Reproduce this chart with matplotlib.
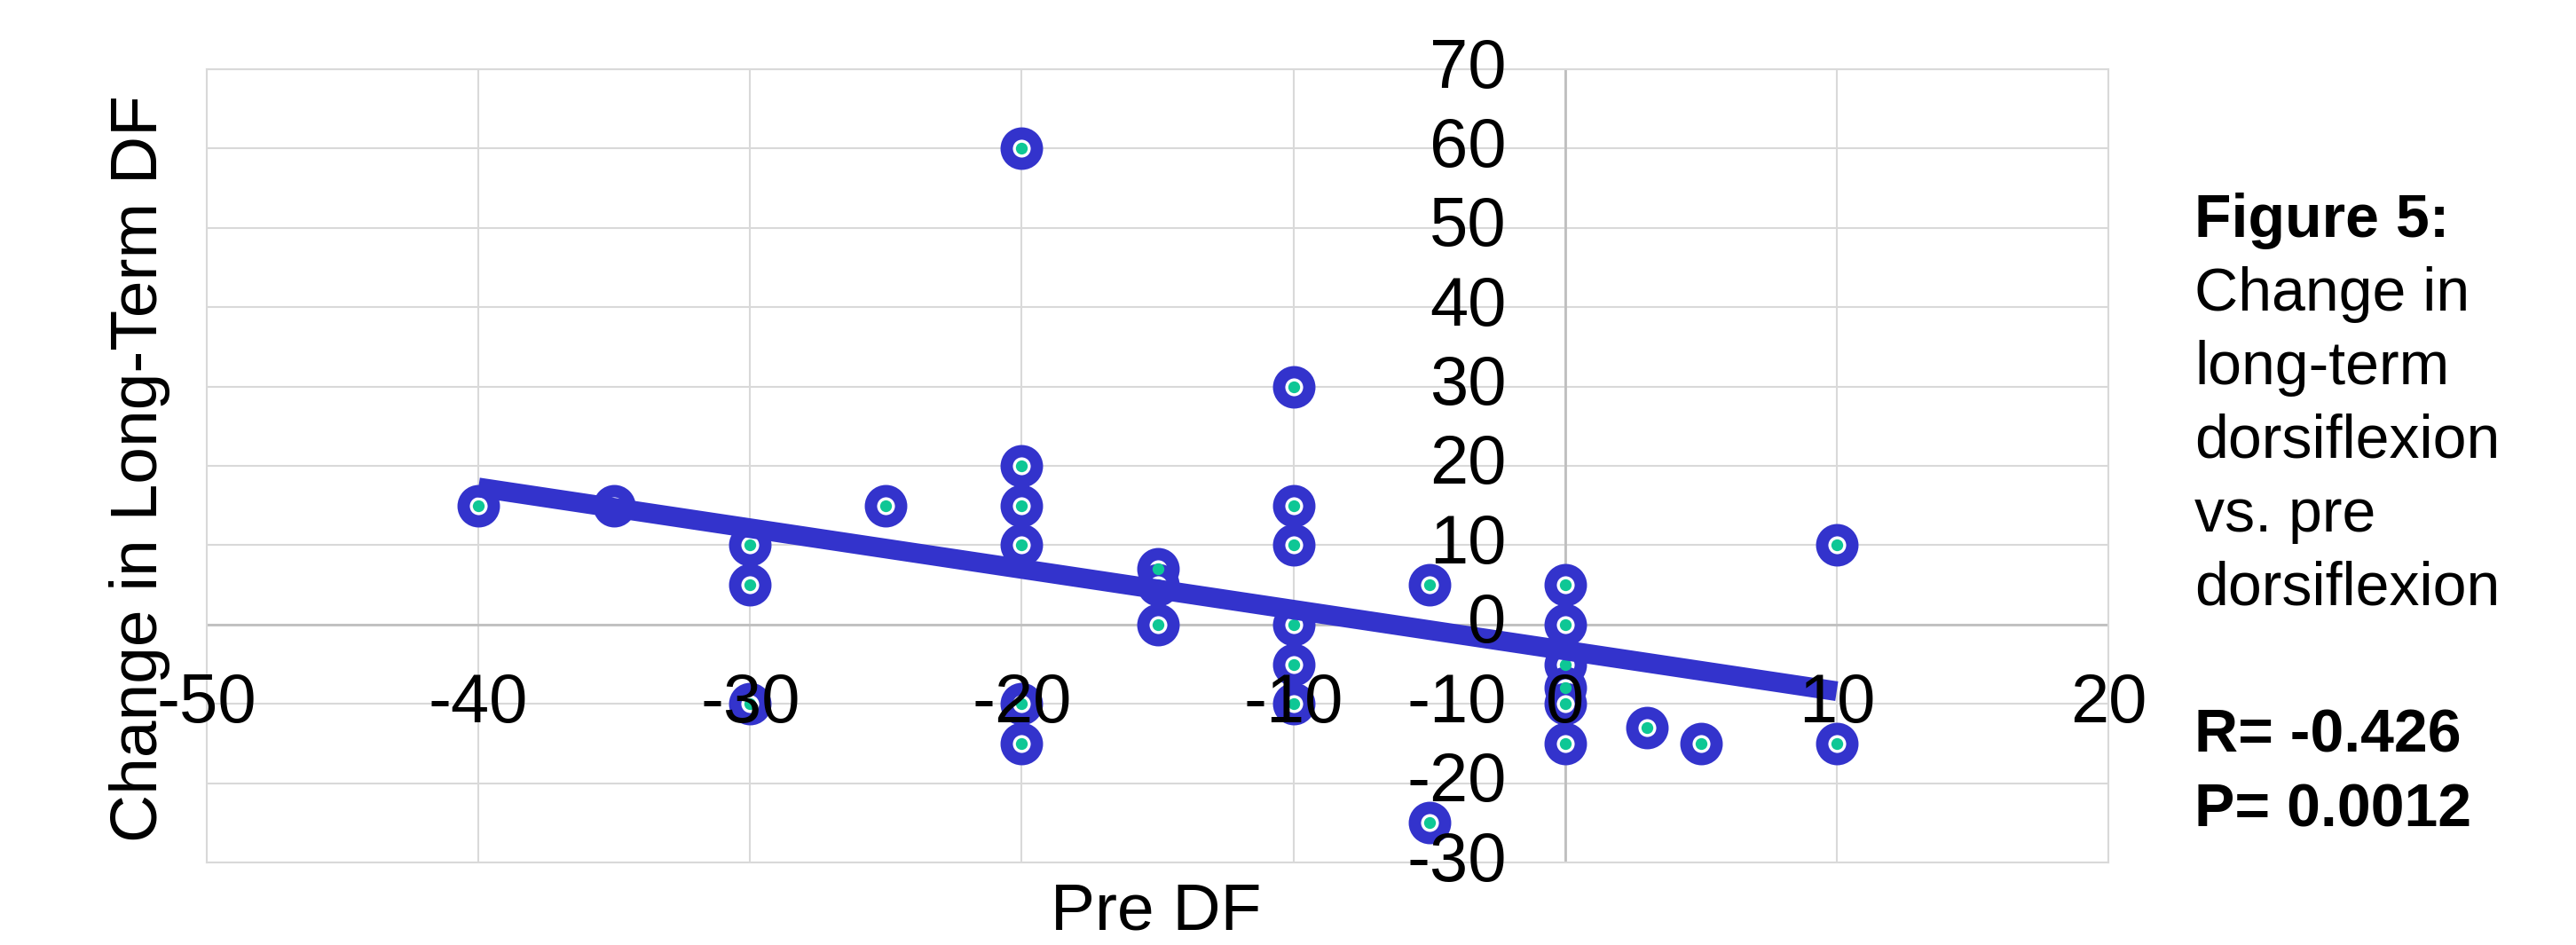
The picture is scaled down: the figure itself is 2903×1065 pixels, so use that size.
import numpy as np
import matplotlib
matplotlib.use("Agg")
import matplotlib.pyplot as plt
from matplotlib.transforms import offset_copy

plt.rcParams['font.family'] = ['Liberation Sans', 'DejaVu Sans']

# pre-op dorsiflexion vs change in long-term dorsiflexion
pre_df = [-40, -35, -30, -30, -30, -25, -20, -20, -20, -20, -20, -20,
          -15, -15, -15, -10, -10, -10, -10, -10, -10, -5, -5,
          0, 0, 0, 0, 0, 0, 3, 5, 10, 10]
change_df = [15, 15, 10, 5, -10, 15, 60, 20, 15, 10, -10, -15,
             7, 5, 0, 30, 15, 10, 0, -5, -10, 5, -25,
             5, 0, -5, -8, -10, -15, -13, -15, 10, -15]

x_ticks = [-50, -40, -30, -20, -10, 0, 10, 20]
y_ticks = [-30, -20, -10, 0, 10, 20, 30, 40, 50, 60, 70]

caption = ["Figure 5:", "Change in", "long-term", "dorsiflexion",
           "vs. pre", "dorsiflexion", "", "R= -0.426", "P= 0.0012"]
caption_bold = [True, False, False, False, False, False, False, True, True]

blue = '#3333cc'
teal = '#0ec795'
grid_c = '#d9d9d9'

fig = plt.figure(figsize=(29.03, 10.65), dpi=100)
ax = fig.add_axes([233 / 2903, 93 / 1065, 2143 / 2903, 894 / 1065])

ax.set_xlim(x_ticks[0], x_ticks[-1])
ax.set_ylim(y_ticks[0], y_ticks[-1])
ax.set_xticks(x_ticks)
ax.set_yticks(y_ticks)
ax.tick_params(length=0, labelbottom=False, labelleft=False)
ax.grid(True, color=grid_c, linewidth=1.5, zorder=0)
ax.set_axisbelow(True)
for s in ax.spines.values():
    s.set_color(grid_c)
    s.set_linewidth(1.5)
ax.axhline(0, color='#bfbfbf', linewidth=2, zorder=1)
ax.axvline(0, color='#bfbfbf', linewidth=2, zorder=1)

# markers: blue ring, white fill, teal dot
ax.plot(pre_df, change_df, 'o', ms=24.5, mew=10, mec=blue, mfc='white',
        linestyle='none', zorder=3)
ax.plot(pre_df, change_df, 'o', ms=9.6, mew=0, mfc=teal,
        linestyle='none', zorder=3)

# linear trend line
coef = np.polyfit(pre_df, change_df, 1)
xs = np.array([min(pre_df), max(pre_df)])
ax.plot(xs, np.polyval(coef, xs), color=blue, linewidth=16,
        solid_capstyle='butt', zorder=4)

# tick labels in excel style
for v in x_ticks:
    ax.text(v, -10, str(v), ha='center', va='center', fontsize=56, zorder=5)
ytr = offset_copy(ax.transData, fig=fig, x=-66, y=0, units='dots')
for v in y_ticks:
    ax.text(0, v, str(v), ha='right', va='center', fontsize=56,
            transform=ytr, zorder=5)

fig.text(1303 / 2903, 17 / 1065, "Pre DF", ha='center', va='baseline',
         fontsize=54)
fig.text(158 / 2903, 537 / 1065, "Change in Long-Term DF", ha='center',
         va='center', rotation=90, fontsize=54)

for i, (line, b) in enumerate(zip(caption, caption_bold)):
    if not line:
        continue
    fig.text(2473 / 2903, 1 - (267 + 83 * i) / 1065, line, ha='left',
             va='baseline', fontsize=49,
             fontweight='bold' if b else 'normal')

fig.savefig('out.png', dpi=100)
